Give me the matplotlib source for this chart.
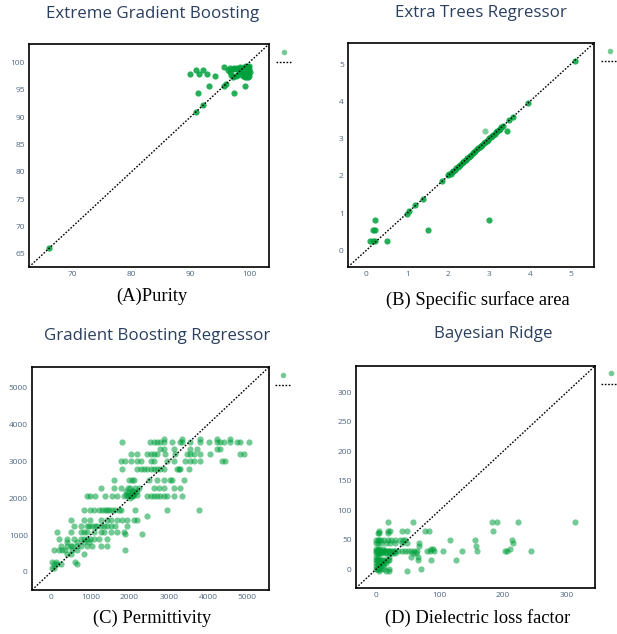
import matplotlib
matplotlib.use("Agg")
import matplotlib.pyplot as plt
from matplotlib.lines import Line2D

# ---------------- data ----------------
# (A) Purity - Extreme Gradient Boosting
a_actual = [66, 91, 92.2, 95.8, 96.1, 97.3, 90, 91, 91.5, 92.2, 92.8, 94.3, 91.3, 93.2, 95.7, 97.5, 99.3, 99.6,
            96.5, 96.8, 97.0, 97.3, 97.8, 98.2, 98.5, 98.3, 97.8, 97.2, 98.0, 98.6, 99.0, 99.3, 99.6, 99.9,
            100.0, 99.8, 99.5, 99.2, 99.8, 100.0, 99.4, 99.0, 98.8, 99.7, 100.1, 99.1, 98.4, 97.5, 96.8,
            99.5, 100.0, 98.9, 99.9, 99.3]
a_pred = [66, 91, 92.2, 95.8, 96.0, 97.4, 98, 98.7, 98, 98.7, 98, 97.5, 94.5, 95.8, 99.2, 94.5, 95.8, 97.4,
          98.7, 98.2, 97.8, 97.5, 97.5, 97.8, 98.2, 98.6, 98.8, 98.8, 99.0, 98.9, 98.7, 98.9, 99.1, 99.2,
          98.8, 98.5, 98.2, 98.0, 97.9, 97.6, 97.6, 97.9, 98.4, 98.0, 98.3, 99.2, 99.2, 99.0, 99.0,
          99.3, 99.3, 97.6, 97.3, 97.3]

# (B) Specific surface area - Extra Trees Regressor
b_actual = [0.1, 0.15, 0.2, 0.17, 0.2, 0.22, 0.5, 1.5, 3.0, 3.45, 1.0, 1.05, 1.2, 1.38, 1.85, 3.5, 3.6, 3.95, 5.1,
            2.0, 2.03, 2.06, 2.1, 2.13, 2.16, 2.2, 2.23, 2.27, 2.3, 2.33, 2.37, 2.4, 2.44, 2.47, 2.5, 2.54,
            2.57, 2.6, 2.64, 2.67, 2.7, 2.74, 2.77, 2.8, 2.84, 2.87, 2.9, 2.94, 2.97, 3.0, 3.04, 3.07, 3.1,
            3.14, 3.17, 3.2, 3.24, 3.27, 3.3, 3.34]
b_pred = [0.25, 0.25, 0.25, 0.55, 0.55, 0.8, 0.25, 0.55, 0.8, 3.2, 0.98, 1.05, 1.22, 1.38, 1.85, 3.5, 3.58, 3.95, 5.08,
          2.01, 2.04, 2.06, 2.1, 2.12, 2.17, 2.2, 2.24, 2.27, 2.3, 2.34, 2.36, 2.4, 2.43, 2.47, 2.51, 2.54,
          2.57, 2.61, 2.64, 2.67, 2.71, 2.74, 2.77, 2.8, 2.83, 2.87, 2.9, 2.94, 2.97, 3.01, 3.04, 3.07, 3.1,
          3.13, 3.17, 3.2, 3.23, 3.27, 3.3, 3.33]
b_light_actual = [2.9]
b_light_pred = [3.2]

# (C) Permittivity - Gradient Boosting Regressor (rows of predicted value -> actual values)
c_rows = {
    3610: [2873, 3340, 3808, 4233, 4573],
    3520: [1810, 2533, 2620, 2700, 2790, 2875, 3085, 3300, 3340, 3555, 3810, 4020, 4235, 4320, 4405, 4575,
           4745, 4830, 5040],
    3330: [2790, 2875, 3130, 3555, 3725, 4235, 4320],
    3200: [2025, 2195, 2450, 2535, 2620, 2700, 2915, 3170, 3470, 3555, 3640, 3810, 4065, 4830, 4915],
    3000: [1770, 1895, 2025, 2195, 2280, 2535, 2620, 2960, 3130, 3425, 3555, 3640, 3810, 4360, 4445],
    2800: [1810, 2195, 2280, 2365, 2450, 2535, 2620, 2700, 2790, 2875, 3215, 3255, 3300, 3510],
    2500: [1600, 1980, 2065, 2110, 2490, 2700, 2875, 3045, 3085, 3385],
    2270: [1260, 1600, 1770, 1950, 2000, 2150, 2250, 2620, 2745, 2875, 3130, 3300],
    2200: [1900, 2050, 2100, 2200],
    2150: [1950, 2050, 2150],
    2100: [1900, 2000, 2100, 2200],
    2050: [920, 1000, 1130, 1385, 1555, 1685, 1850, 1950, 2050, 2100, 2450, 2535, 2620, 2700, 2790, 2875,
           2960, 3130, 3340],
    2000: [2000],
    1680: [835, 1000, 1090, 1215, 1300, 1385, 1430, 1470, 1555, 1640, 1725, 1770, 2150, 2960, 3765],
    1530: [2450],
    1400: [495, 835, 1000, 1260, 1430, 1515, 1685, 1810, 1940, 2110, 2195],
    1250: [580, 750, 920, 960, 1045, 1130, 1175, 1260, 1345, 1430, 1515, 1640, 1940],
    1080: [155, 495, 750, 835, 920, 1090, 1260, 1345, 1515, 1685, 1855],
    1030: [1895, 2320],
    890: [195, 410, 580, 750, 835, 920, 1000, 1090, 1215, 1430],
    800: [410, 665, 835, 960],
    710: [240, 410, 495, 535, 665, 750, 920, 1045, 1260, 1430],
    600: [70, 195, 280, 365, 535, 665, 1895],
    490: [410, 495, 835],
    280: [25, 110, 620],
    220: [70, 155, 240, 665],
    100: [25, 70],
}

# (D) Dielectric loss factor - Bayesian Ridge (rows of predicted value -> actual values)
d_rows = {
    80: [18, 58, 183, 191, 223, 313],
    65: [4, 19, 22, 40, 49, 77, 83, 184],
    62: [2, 5, 18],
    50: [0, 2, 4, 7, 12, 18, 23, 30, 38, 42, 45, 116, 156, 214],
    45: [0, 3, 8, 15, 22, 30, 40, 48, 68, 215],
    40: [157, 68],
    35: [0, 2, 5, 10, 86, 90, 211],
    30: [0, 1, 2, 3, 4, 5, 6, 8, 10, 12, 14, 16, 18, 20, 22, 25, 28, 30, 35, 40, 45, 50, 55, 60, 65, 80, 85,
         91, 106, 135, 159, 203, 206, 244],
    27: [0, 2, 4, 6, 9, 13, 17, 22, 26, 30, 58, 62],
    20: [0, 3, 20, 55, 66],
    15: [0, 1, 2, 3, 5, 7, 9, 12, 15, 18, 20, 66, 87, 126],
    10: [0, 2, 4, 8, 10, 12, 16],
    5: [0, 2, 4, 5, 6, 10],
    0: [0, 1, 3, 5, 8, 12, 20, 71],
    -3: [5, 15, 20, 48],
}

titles = ["Extreme Gradient Boosting", "Extra Trees Regressor", "Gradient Boosting Regressor", "Bayesian Ridge"]
captions = ["(A)Purity", "(B) Specific surface area", "(C) Permittivity", "(D) Dielectric loss factor"]
ranges = [(62.6, 103.4), (-0.45, 5.57), (-490, 5560), (-32, 345)]
xticks = [[70, 80, 90, 100], [0, 1, 2, 3, 4, 5], [0, 1000, 2000, 3000, 4000, 5000], [0, 100, 200, 300]]
yticks = [[65, 70, 75, 80, 85, 90, 95, 100], [0, 1, 2, 3, 4, 5], [0, 1000, 2000, 3000, 4000, 5000],
          [0, 50, 100, 150, 200, 250, 300]]

# ---------------- figure ----------------
GREEN = "#00a03c"
TICK_C = "#506784"
TITLE_C = "#2a3f5f"

fig = plt.figure(figsize=(6.17, 6.34), dpi=100)
W, H = 617, 634


def box(x0, y0, x1, y1):
    return [x0 / W, 1 - y1 / H, (x1 - x0) / W, (y1 - y0) / H]


axes_px = [(29, 44, 269, 267), (348, 43, 594, 267), (32, 367, 269, 590), (356, 366, 595, 588)]
title_px = [(153, 14), (481, 13), (157, 336), (493, 334)]
caption_px = [(152, 296), (478, 300), (152, 618), (478, 618)]
legend_px = [(284, 52, 276, 292, 62), (610, 51, 601, 617, 61), (283, 375, 275, 291, 385), (611, 373, 601, 617, 384)]

axs = [fig.add_axes(box(*p)) for p in axes_px]

# scatter data
axs[0].scatter(a_actual, a_pred, s=20, color=GREEN, alpha=0.85, linewidths=0, zorder=3)
axs[1].scatter(b_actual, b_pred, s=20, color=GREEN, alpha=0.85, linewidths=0, zorder=3)
axs[1].scatter(b_light_actual, b_light_pred, s=20, color=GREEN, alpha=0.5, linewidths=0, zorder=3)

cx = [x for yv, xs in c_rows.items() for x in xs]
cy = [yv for yv, xs in c_rows.items() for x in xs]
axs[2].scatter(cx, cy, s=20, color=GREEN, alpha=0.55, linewidths=0, zorder=3)

dx = [x for yv, xs in d_rows.items() for x in xs]
dy = [yv for yv, xs in d_rows.items() for x in xs]
axs[3].scatter(dx, dy, s=20, color=GREEN, alpha=0.55, linewidths=0, zorder=3)

for i, ax in enumerate(axs):
    lo, hi = ranges[i]
    ax.plot([lo, hi], [lo, hi], color="black", linestyle=(0, (1.2, 1.2)), linewidth=1.0, zorder=4)
    ax.set_xlim(lo, hi)
    ax.set_ylim(lo, hi)
    ax.set_xticks(xticks[i])
    ax.set_yticks(yticks[i])
    ax.tick_params(length=0, labelsize=6, labelcolor=TICK_C, pad=3)
    for lab in ax.get_xticklabels() + ax.get_yticklabels():
        lab.set_fontfamily("Open Sans")
    for sp in ax.spines.values():
        sp.set_linewidth(1.2)
        sp.set_color("black")

    tx, ty = title_px[i]
    fig.text(tx / W, 1 - ty / H, titles[i], ha="center", va="center", fontsize=12.2,
             color=TITLE_C, family="Open Sans")
    cxp, cyp = caption_px[i]
    fig.text(cxp / W, 1 - cyp / H, captions[i], ha="center", va="center", fontsize=13.3,
             color="black", family="Liberation Serif")

    mx, my, lx0, lx1, ly = legend_px[i]
    fig.add_artist(Line2D([mx / W], [1 - my / H], marker="o", markersize=4, color=GREEN, alpha=0.55,
                          markeredgewidth=0, linestyle="none", transform=fig.transFigure))
    fig.add_artist(Line2D([lx0 / W, lx1 / W], [1 - ly / H, 1 - ly / H], color="black",
                          linestyle=(0, (1.2, 1.2)), linewidth=1.0, transform=fig.transFigure))

fig.savefig("out.png", dpi=100)
